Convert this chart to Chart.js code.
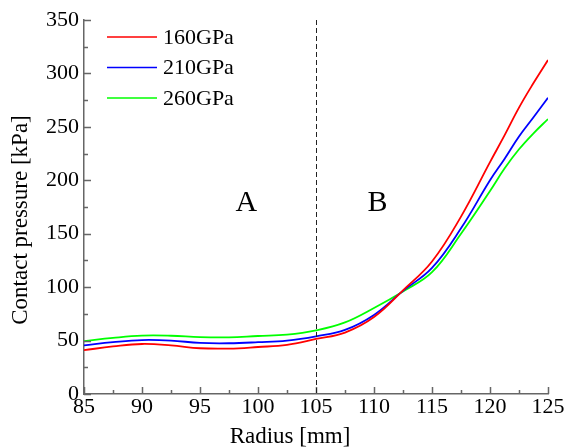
<!DOCTYPE html>
<html>
<head>
<meta charset="utf-8">
<script src="https://cdn.jsdelivr.net/npm/chart.js@4/dist/chart.umd.min.js"></script>
<style>
  html, body { margin: 0; padding: 0; background: #fff; }
  #wrap { width: 568px; height: 447px; }
</style>
</head>
<body>
<div id="wrap"><canvas id="pressureChart"></canvas></div>
<script>
// radius positions [mm]
const radius = [85, 87.5, 90, 92.5, 95, 97.5, 100, 102.5, 105, 107.5, 110, 112.5, 115, 117.5, 120, 121.25, 122.5, 123.75, 125];
// contact pressure [kPa] per elastic modulus
const p160 = [41, 44.5, 46.8, 45.5, 42.8, 42.5, 44, 46, 51.5, 57.5, 72, 97, 124, 166, 217, 242, 268, 291, 312.6];
const p210 = [45.5, 48.5, 50.5, 50, 47.8, 47.5, 48.5, 50, 54, 60, 74, 96.5, 118, 155, 200, 220, 241, 259, 277.3];
const p260 = [49.5, 52.5, 54.6, 54.5, 53.2, 53, 54.3, 55.5, 59.5, 67, 80.5, 96, 114, 150, 190, 211, 229, 244, 257.3];
const seriesLabels = ["160GPa", "210GPa", "260GPa"];
const seriesColors = ["#ff0000", "#0000ff", "#00ff00"];
const xTicks = { min: 85, max: 125, step: 5, minor: 2.5 };
const yTicks = { min: 0, max: 350, step: 50, minor: 25 };
const boundary = 105;
const zones = [{ text: "A", x: 99, y: 179 }, { text: "B", x: 110.3, y: 179 }];
const xTitle = "Radius [mm]";
const yTitle = "Contact pressure [kPa]";

const SERIF = "'Liberation Serif', 'Times New Roman', serif";
const AXIS = "#666";

const series = [p160, p210, p260];

// inward ticks, boundary line, zone letters, axis titles and the legend box
const decorations = {
  id: "decorations",
  afterDraw(chart) {
    const { ctx, chartArea: a, scales: { x, y } } = chart;
    ctx.save();
    ctx.strokeStyle = AXIS;
    ctx.lineWidth = 1.5;
    ctx.beginPath();
    for (let v = xTicks.min; v <= xTicks.max + 1e-6; v += xTicks.minor) {
      const px = Math.round(x.getPixelForValue(v)) + 0.5;
      const len = (v - xTicks.min) % xTicks.step === 0 ? 7 : 4;
      ctx.moveTo(px, a.bottom);
      ctx.lineTo(px, a.bottom - len);
    }
    for (let v = yTicks.min; v <= yTicks.max + 1e-6; v += yTicks.minor) {
      const py = Math.round(y.getPixelForValue(v)) + 0.5;
      const len = (v - yTicks.min) % yTicks.step === 0 ? 7 : 4;
      ctx.moveTo(a.left, py);
      ctx.lineTo(a.left + len, py);
    }
    ctx.stroke();

    // dashed boundary
    const bx = Math.round(x.getPixelForValue(boundary)) + 0.5;
    ctx.strokeStyle = "#222";
    ctx.lineWidth = 1;
    ctx.setLineDash([5, 3]);
    ctx.beginPath();
    ctx.moveTo(bx, a.top);
    ctx.lineTo(bx, a.bottom);
    ctx.stroke();
    ctx.setLineDash([]);

    ctx.fillStyle = "#000";
    ctx.font = "30px " + SERIF;
    ctx.textAlign = "center";
    ctx.textBaseline = "middle";
    zones.forEach(z => ctx.fillText(z.text, x.getPixelForValue(z.x), y.getPixelForValue(z.y)));

    // axis titles, sitting a little left / low of the plot centre
    ctx.font = "23px " + SERIF;
    ctx.fillText(xTitle, a.left + 206, a.bottom + 43);
    ctx.save();
    ctx.translate(21, a.top + 200);
    ctx.rotate(-Math.PI / 2);
    ctx.fillText(yTitle, 0, 0);
    ctx.restore();

    // legend
    ctx.font = "22px " + SERIF;
    ctx.textAlign = "left";
    seriesLabels.forEach((lab, i) => {
      const ly = a.top + 17 + i * 30.5;
      ctx.strokeStyle = seriesColors[i];
      ctx.lineWidth = 1.5;
      ctx.beginPath();
      ctx.moveTo(a.left + 23, ly);
      ctx.lineTo(a.left + 73, ly);
      ctx.stroke();
      ctx.fillStyle = "#000";
      ctx.fillText(lab, a.left + 79, ly + 1);
    });
    ctx.restore();
  }
};

function draw() {
  new Chart(document.getElementById("pressureChart"), {
    type: "line",
    data: {
      datasets: series.map((s, i) => ({
        label: seriesLabels[i],
        data: radius.map((r, k) => ({ x: r, y: s[k] })),
        borderColor: seriesColors[i],
        borderWidth: 1.8,
        pointRadius: 0,
        tension: 0.4,
        fill: false
      }))
    },
    options: {
      responsive: true,
      maintainAspectRatio: false,
      animation: false,
      layout: { padding: { top: 20, right: 20, left: 0, bottom: 0 } },
      plugins: { legend: { display: false }, tooltip: { enabled: false } },
      scales: {
        x: {
          type: "linear",
          min: xTicks.min,
          max: xTicks.max,
          afterFit(scale) { scale.height = 53; },
          ticks: { stepSize: xTicks.step, color: "#000", font: { family: SERIF, size: 22 }, padding: 0, maxRotation: 0 },
          grid: { display: true, drawOnChartArea: false, drawTicks: false, tickLength: 0 },
          border: { display: true, color: AXIS, width: 1.5 }
        },
        y: {
          min: yTicks.min,
          max: yTicks.max,
          afterFit(scale) { scale.width = 84; },
          ticks: { stepSize: yTicks.step, color: "#000", font: { family: SERIF, size: 22 }, padding: 5 },
          grid: { display: true, drawOnChartArea: false, drawTicks: false, tickLength: 0 },
          border: { display: true, color: AXIS, width: 1.5 }
        }
      }
    },
    plugins: [decorations]
  });
}

// make sure the serif face is ready before the canvas text goes down
Promise.all([
  document.fonts.load("22px 'Liberation Serif'"),
  document.fonts.load("30px 'Liberation Serif'")
]).then(draw, draw);
</script>
</body>
</html>
